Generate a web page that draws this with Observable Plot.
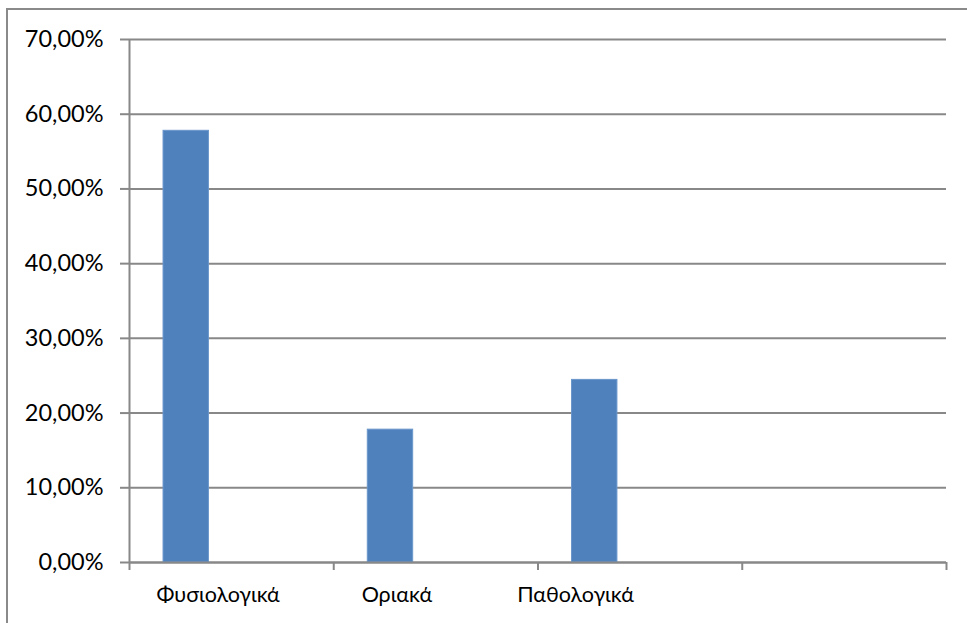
<!DOCTYPE html>
<html>
<head>
<meta charset="utf-8">
<script src="https://cdn.jsdelivr.net/npm/d3@7"></script>
<script src="https://cdn.jsdelivr.net/npm/@observablehq/plot@0.6"></script>
<style>
  html, body { margin: 0; padding: 0; background: #fff; overflow: hidden; }
  #wrap { position: relative; width: 967px; height: 623px; }
  #border { position: absolute; left: 6px; top: 8px; width: 1200px; height: 1200px;
            border: 2px solid #8a8a8a; box-sizing: border-box; }
  #chart { position: absolute; left: 0; top: 0; }
</style>
</head>
<body>
<div id="wrap"><div id="border"></div><div id="chart"></div></div>
<script>
// Share of results per class
const categories = ["Φυσιολογικά", "Οριακά", "Παθολογικά"];
const shares = [0.5778, 0.1778, 0.2444];
const yTicks = [0, 0.1, 0.2, 0.3, 0.4, 0.5, 0.6, 0.7];
const slotCount = 4; // the category axis has one extra empty slot

// clustered-bar geometry: three series slots per category, 150% gap
const seriesCount = 3;
const gapWidth = 1.5;
const barW = 1 / (seriesCount + gapWidth);
const barOffset = (gapWidth / 2) * barW;

const data = categories.map((c, i) => ({
  category: c,
  x1: i + barOffset,
  x2: i + barOffset + barW,
  value: shares[i]
}));

// category label anchors along the axis
const labelStep = 0.875, labelStart = 0.434;
const labelPos = categories.map((c, i) => labelStart + i * labelStep);

const gray = "#888888";
const font = "Lato, 'Liberation Sans', sans-serif";
const fmt = d => (d * 100).toFixed(2).replace(".", ",") + "%";

const chart = Plot.plot({
  width: 967,
  height: 623,
  marginLeft: 129,
  marginRight: 21,
  marginTop: 39,
  marginBottom: 61,
  style: { fontFamily: font, fontSize: "23px", color: "#000", background: "transparent" },
  x: { type: "linear", domain: [0, slotCount], label: null },
  y: { domain: [0, 0.7], label: null },
  marks: [
    Plot.gridY(yTicks, { stroke: gray, strokeOpacity: 1, strokeWidth: 2 }),
    Plot.rectY(data, {
      x1: "x1", x2: "x2", y: "value",
      fill: "#4F81BD", stroke: "#6A96CB", strokeWidth: 1
    }),
    Plot.ruleX([0], { stroke: gray, strokeWidth: 2 }),
    Plot.ruleY([0], { stroke: gray, strokeWidth: 2 }),
    Plot.axisY(yTicks, {
      tickSize: 9, tickPadding: 17, tickFormat: fmt, label: null,
      stroke: gray, strokeWidth: 2, fill: "#000", fontSize: 23.5
    }),
    Plot.axisX(d3.range(slotCount + 1), {
      tickSize: 8, tickFormat: () => "", label: null, stroke: gray, strokeWidth: 2
    }),
    Plot.axisX(labelPos, {
      tickSize: 0, tickPadding: 24, tickFormat: (d, i) => categories[i], label: null,
      fill: "#000", fontSize: 21.5
    })
  ]
});

document.getElementById("chart").appendChild(chart);
</script>
</body>
</html>
